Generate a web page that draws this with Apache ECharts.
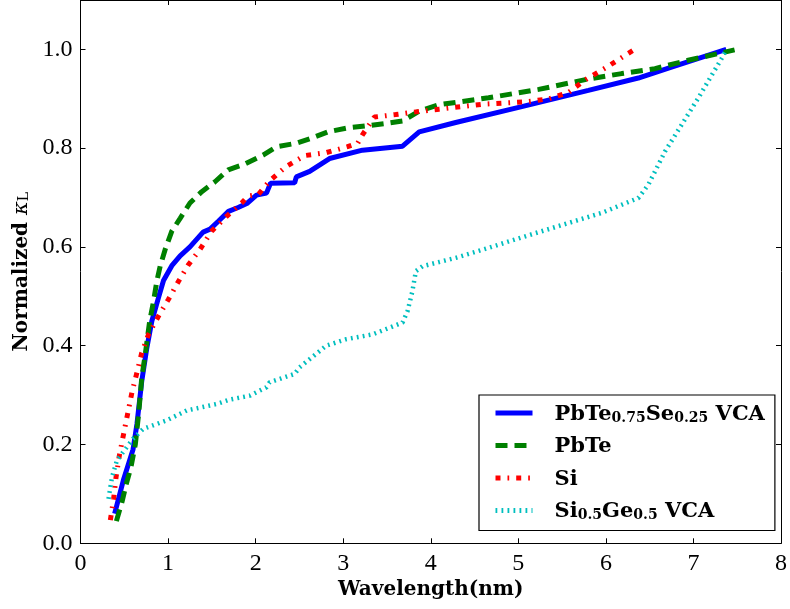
<!DOCTYPE html>
<html><head><meta charset="utf-8">
<script src="https://cdn.jsdelivr.net/npm/echarts@6/dist/echarts.min.js"></script>
<style>html,body{margin:0;padding:0;background:#fff}#c{width:790px;height:609px}</style>
</head><body><div id="c"></div>
<script>
// ---- data ----
const seriesNames = ['PbTe0.75Se0.25 VCA', 'PbTe', 'Si', 'Si0.5Ge0.5 VCA'];
const xTickValues = [0, 1, 2, 3, 4, 5, 6, 7, 8];
const yTickValues = [0.0, 0.2, 0.4, 0.6, 0.8, 1.0];

const pbteSeX = [0.39,0.49,0.60,0.645,0.70,0.758,0.815,0.89,0.948,1.043,1.138,1.25,1.40,1.48,1.574,1.69,1.80,1.90,2.01,2.124,2.17,2.446,2.465,2.617,2.844,3.22,3.678,3.868,4.285,5.04,5.80,6.37,6.75,7.375];
const pbteSeY = [0.06,0.128,0.19,0.242,0.329,0.396,0.45,0.497,0.532,0.562,0.582,0.60,0.63,0.636,0.652,0.672,0.68,0.688,0.705,0.709,0.729,0.73,0.742,0.753,0.779,0.796,0.804,0.833,0.852,0.884,0.917,0.942,0.964,1.0];

const pbteX = [0.41,0.474,0.524,0.576,0.626,0.664,0.70,0.74,0.79,0.834,0.872,0.91,0.967,1.043,1.138,1.25,1.385,1.536,1.687,1.877,2.085,2.238,2.465,2.636,2.825,3.05,3.26,3.49,3.678,3.868,4.096,4.66,5.233,5.80,6.18,6.56,6.94,7.47];
const pbteY = [0.045,0.084,0.121,0.154,0.20,0.262,0.336,0.383,0.45,0.49,0.531,0.561,0.595,0.632,0.658,0.689,0.712,0.732,0.756,0.768,0.786,0.803,0.81,0.82,0.833,0.841,0.845,0.85,0.855,0.875,0.888,0.902,0.919,0.94,0.951,0.961,0.978,0.999];

const siX = [0.341,0.379,0.406,0.444,0.493,0.538,0.588,0.645,0.70,0.777,0.891,1.005,1.118,1.232,1.365,1.498,1.669,1.84,1.915,2.03,2.16,2.35,2.56,2.806,3.05,3.166,3.22,3.356,3.60,3.85,4.096,4.59,5.10,5.35,5.575,5.78,6.01,6.22,6.33];
const siY = [0.047,0.091,0.134,0.178,0.222,0.262,0.306,0.346,0.386,0.423,0.46,0.494,0.530,0.564,0.595,0.632,0.662,0.689,0.703,0.706,0.734,0.763,0.785,0.791,0.803,0.81,0.827,0.863,0.868,0.874,0.879,0.889,0.894,0.90,0.913,0.94,0.964,0.988,1.0];

const siGeX = [0.32,0.36,0.417,0.53,0.607,0.72,0.986,1.214,1.555,1.706,1.934,2.124,2.16,2.446,2.50,2.806,3.03,3.337,3.678,3.735,3.79,3.83,3.906,4.285,4.53,5.196,5.953,6.37,6.485,6.674,7.05,7.32,7.375];
const siGeY = [0.09,0.134,0.168,0.195,0.213,0.232,0.249,0.269,0.282,0.291,0.299,0.316,0.326,0.343,0.356,0.40,0.413,0.423,0.447,0.47,0.51,0.551,0.561,0.578,0.591,0.628,0.669,0.699,0.726,0.793,0.90,0.981,1.0];

const zip = (xs, ys) => xs.map((x, i) => [x, ys[i]]);

const chart = echarts.init(document.getElementById('c'), null, {renderer: 'canvas'});

const legendRich = {
  b: {fontFamily: 'DejaVu Serif', fontWeight: 'bold', fontSize: 21, color: '#000', lineHeight: 24, verticalAlign: 'bottom'},
  s: {fontFamily: 'DejaVu Serif', fontWeight: 'bold', fontSize: 14, color: '#000', lineHeight: 10, verticalAlign: 'bottom'}
};
const legendLabels = {
  'PbTe0.75Se0.25 VCA': '{b|PbTe}{s|0.75}{b|Se}{s|0.25}{b| VCA}',
  'PbTe': '{b|PbTe}',
  'Si': '{b|Si}',
  'Si0.5Ge0.5 VCA': '{b|Si}{s|0.5}{b|Ge}{s|0.5}{b| VCA}'
};

const axisCommon = {
  type: 'value',
  axisLine: {show: true, onZero: false, lineStyle: {color: '#000', width: 1}},
  axisTick: {show: true, inside: true, length: 5, lineStyle: {color: '#000', width: 1}},
  splitLine: {show: false}
};

const option = {
  animation: false,
  backgroundColor: '#fff',
  grid: {left: 80.5, right: 6.7, top: -2.3, bottom: 65.7, containLabel: false},
  xAxis: [
    Object.assign({}, axisCommon, {
      min: 0, max: 8, interval: 1, position: 'bottom',
      axisLabel: {fontFamily: 'Liberation Serif', fontSize: 24, color: '#000', margin: 8, formatter: v => String(v)},
      name: 'Wavelength(nm)', nameLocation: 'middle', nameGap: 32,
      nameTextStyle: {fontFamily: 'DejaVu Serif', fontWeight: 'bold', fontSize: 20, color: '#000'}
    }),
    Object.assign({}, axisCommon, {
      min: 0, max: 8, interval: 1, position: 'top', axisLabel: {show: false}
    })
  ],
  yAxis: [
    Object.assign({}, axisCommon, {
      min: 0, max: 1.1, interval: 0.2, position: 'left',
      axisLabel: {fontFamily: 'Liberation Serif', fontSize: 24, color: '#000', margin: 8, showMaxLabel: false,
        formatter: v => yTickValues.some(t => Math.abs(t - v) < 1e-6) ? v.toFixed(1) : ''},
      name: '{b|Normalized }{k|κ}{l|L}', nameLocation: 'middle', nameGap: 46, nameRotate: 90,
      nameTextStyle: {
        rich: {
          b: {fontFamily: 'DejaVu Serif', fontWeight: 'bold', fontSize: 20, color: '#000', lineHeight: 24, verticalAlign: 'bottom'},
          k: {fontFamily: 'DejaVu Serif', fontStyle: 'italic', fontSize: 21, color: '#000', lineHeight: 24, verticalAlign: 'bottom'},
          l: {fontFamily: 'DejaVu Serif', fontSize: 14, color: '#000', lineHeight: 10, verticalAlign: 'bottom'}
        }
      }
    }),
    Object.assign({}, axisCommon, {
      min: 0, max: 1.1, interval: 0.2, position: 'right', axisLabel: {show: false}
    })
  ],
  legend: {
    orient: 'vertical',
    left: 479, top: 395,
    padding: [9, 10, 8, 14],
    borderColor: '#000', borderWidth: 1.2, backgroundColor: '#fff',
    itemWidth: 37, itemHeight: 14, itemGap: 11.5,
    itemStyle: {opacity: 0},
    lineStyle: {width: 5},
    data: seriesNames,
    formatter: n => legendLabels[n],
    textStyle: {rich: legendRich, padding: [0, 0, 0, 17]}
  },
  series: [
    {name: seriesNames[0], type: 'line', data: zip(pbteSeX, pbteSeY), symbol: 'none', showSymbol: false,
     lineStyle: {color: '#0000ff', width: 5, type: 'solid'}, itemStyle: {color: '#0000ff'}},
    {name: seriesNames[1], type: 'line', data: zip(pbteX, pbteY), symbol: 'none', showSymbol: false,
     lineStyle: {color: '#008000', width: 5, type: [12, 7]}, itemStyle: {color: '#008000'}},
    {name: seriesNames[2], type: 'line', data: zip(siX, siY), symbol: 'none', showSymbol: false,
     lineStyle: {color: '#ff0000', width: 5, type: [5, 7, 1.7, 7]}, itemStyle: {color: '#ff0000'}},
    {name: seriesNames[3], type: 'line', data: zip(siGeX, siGeY), symbol: 'none', showSymbol: false,
     lineStyle: {color: '#00bfbf', width: 4.5, type: [1.8, 4.2]}, itemStyle: {color: '#00bfbf'}}
  ]
};
chart.setOption(option);
</script>
</body></html>
